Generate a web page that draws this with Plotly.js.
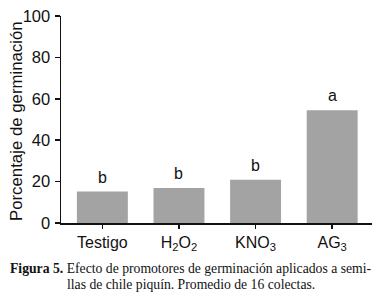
<!DOCTYPE html>
<html><head><meta charset="utf-8">
<script src="https://cdn.plot.ly/plotly-3.0.1.min.js"></script>
<style>html,body{margin:0;padding:0;background:#fff}#c{width:381px;height:306px}</style>
</head><body><div id="c"></div>
<script>
const categories = ["Testigo", "H<sub>2</sub>O<sub>2</sub>", "KNO<sub>3</sub>", "AG<sub>3</sub>"];
const values = [15.2, 16.9, 20.9, 54.5];
const letters = ["b", "b", "b", "a"];
const yTicks = [0, 20, 40, 60, 80, 100];
const yTitle = "Porcentaje de germinación";
const captionLine1 = "<b>Figura 5.</b> Efecto de promotores de germinación aplicados a semi-";
const captionLine2 = "llas de chile piquín. Promedio de 16 colectas.";

const L = 61, R = 9, T = 16, B = 83, W = 381, H = 306;
const pw = W - L - R, ph = H - T - B;
const px = x => (x - L) / pw;
const py = y => (H - B - y) / ph;

const xs = categories.map((c, i) => i);
const ann = letters.map((t, i) => ({
  x: i, y: values[i], xref: 'x', yref: 'y', text: t, showarrow: false,
  yanchor: 'bottom', yshift: 4, font: {family: 'Liberation Sans, Arial', size: 16, color: '#111'}
}));
ann.push({xref:'paper', yref:'paper', x:px(16), y:py(121), xanchor:'center', yanchor:'middle',
  textangle:-90, showarrow:false, text:yTitle,
  font:{family:'Liberation Sans, Arial', size:16.8, color:'#111'}});
ann.push({xref:'paper', yref:'paper', x:px(191), y:py(268), xanchor:'center', yanchor:'middle', showarrow:false,
  text: captionLine1, font:{family:'Liberation Serif, Times New Roman', size:13.7, color:'#111'}});
ann.push({xref:'paper', yref:'paper', x:px(191), y:py(284), xanchor:'center', yanchor:'middle', showarrow:false,
  text: captionLine2, font:{family:'Liberation Serif, Times New Roman', size:13.7, color:'#111'}});

Plotly.newPlot('c', [{
  type: 'bar', x: xs, y: values, width: 0.665,
  marker: {color: '#a3a3a3', line: {width: 0}}, hoverinfo: 'none'
}], {
  width: W, height: H,
  margin: {l: L, r: R, t: T, b: B},
  paper_bgcolor: '#fff', plot_bgcolor: '#fff',
  showlegend: false,
  font: {family: 'Liberation Sans, Arial', size: 16, color: '#111'},
  xaxis: {
    range: [-0.54, 3.52], tickmode: 'array', tickvals: xs, ticktext: categories,
    showline: true, linecolor: '#111', linewidth: 1.5, showgrid: false, zeroline: false,
    ticks: 'outside', ticklen: 4, tickwidth: 1.5, tickcolor: '#111',
    tickfont: {size: 16}, fixedrange: true
  },
  yaxis: {
    range: [0, 100], tickmode: 'array', tickvals: yTicks,
    showline: true, linecolor: '#111', linewidth: 1.5, showgrid: false, zeroline: false,
    ticks: 'outside', ticklen: 5, tickwidth: 1.5, tickcolor: '#111',
    tickfont: {size: 16.5}, ticklabelstandoff: 1, fixedrange: true
  },
  annotations: ann
}, {staticPlot: true});
</script></body></html>
